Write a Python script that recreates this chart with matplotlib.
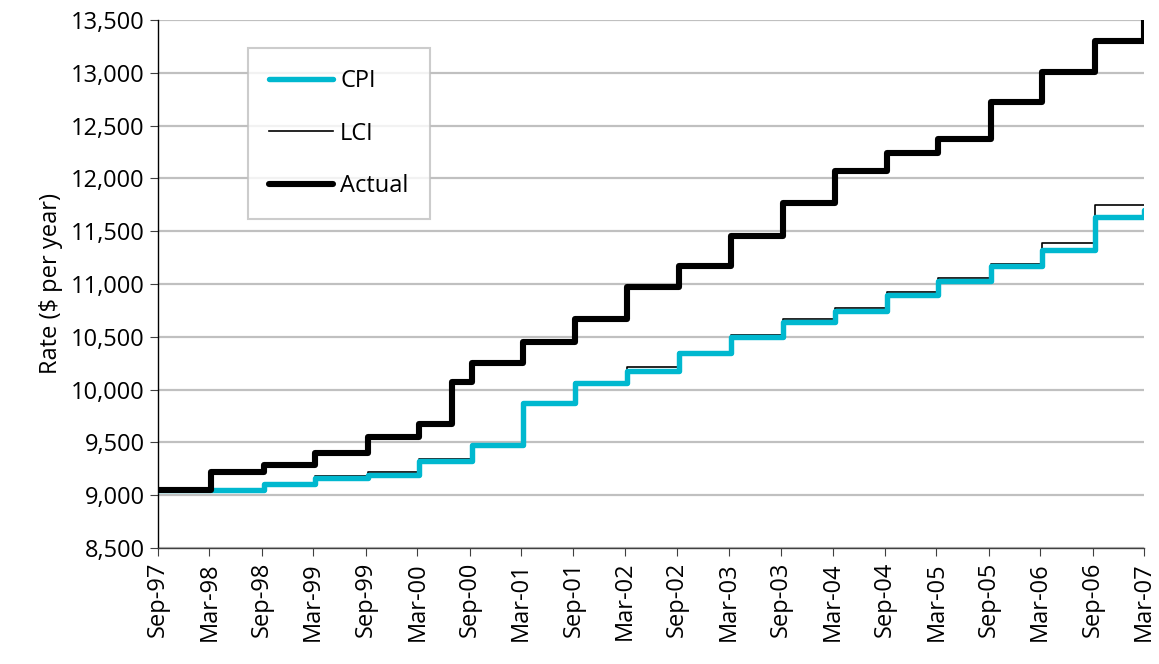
import matplotlib.pyplot as plt
import matplotlib.dates as mdates
import pandas as pd

# step dates (rate changes) and rates in $ per year
dates = ["1997-09-01", "1998-03-08", "1998-09-08", "1999-03-08", "1999-09-08",
         "2000-03-08", "2000-09-08", "2001-03-08", "2001-09-08", "2002-03-08",
         "2002-09-08", "2003-03-08", "2003-09-08", "2004-03-08", "2004-09-08",
         "2005-03-08", "2005-09-08", "2006-03-08", "2006-09-08", "2007-03-01"]

cpi = [9050, 9050, 9110, 9165, 9195, 9325, 9475, 9875, 10060, 10180,
       10345, 10495, 10640, 10745, 10895, 11030, 11170, 11325, 11635, 11700]

lci = [9050, 9050, 9110, 9185, 9215, 9340, 9470, 9860, 10075, 10210,
       10355, 10515, 10665, 10775, 10925, 11055, 11185, 11385, 11750, 11750]

# actual rate has one extra change in mid 2000
actual_dates = ["1997-09-01", "1998-03-08", "1998-09-08", "1999-03-08", "1999-09-08",
                "2000-03-08", "2000-07-01", "2000-09-08", "2001-03-08", "2001-09-08",
                "2002-03-08", "2002-09-08", "2003-03-08", "2003-09-08", "2004-03-08",
                "2004-09-08", "2005-03-08", "2005-09-08", "2006-03-08", "2006-09-08",
                "2007-03-01"]
actual = [9050, 9220, 9285, 9395, 9550, 9675, 10075, 10255, 10450, 10665,
          10975, 11170, 11450, 11765, 12070, 12240, 12370, 12720, 13005, 13300, 13560]

x = pd.to_datetime(dates)
xa = pd.to_datetime(actual_dates)

plt.rcParams['font.family'] = ['Open Sans', 'DejaVu Sans']

fig = plt.figure(figsize=(11.59, 6.64), dpi=100)
ax = fig.add_axes([158 / 1159, 116 / 664, 986 / 1159, 528 / 664])

ax.step(x, lci, where='post', color='black', lw=1.2, label='LCI', zorder=3)
ax.step(x, cpi, where='post', color='#00b8cf', lw=3.9, label='CPI', zorder=4,
        solid_joinstyle='round', solid_capstyle='round')
ax.step(xa, actual, where='post', color='black', lw=4.4, label='Actual', zorder=5,
        solid_joinstyle='round', solid_capstyle='round')

ax.set_xlim(pd.Timestamp("1997-09-01"), pd.Timestamp("2007-03-01"))
ax.set_ylim(8500, 13500)
ax.set_yticks(range(8500, 13501, 500))
ax.yaxis.set_major_formatter(plt.FuncFormatter(lambda v, p: f"{int(v):,}"))

ax.xaxis.set_major_locator(mdates.MonthLocator(bymonth=(3, 9)))
ax.xaxis.set_major_formatter(mdates.DateFormatter('%b-%y'))
plt.setp(ax.get_xticklabels(), rotation=90)

ax.grid(axis='y', color='#c0c0c0', lw=1.6)
ax.set_axisbelow(True)
for s in ['top', 'right']:
    ax.spines[s].set_visible(False)
ax.spines['left'].set_linewidth(1)
ax.spines['bottom'].set_linewidth(1)
ax.spines['bottom'].set_color('#404040')
ax.tick_params(axis='both', labelsize=17, length=6, direction='out', color='#404040')
ax.tick_params(axis='x', pad=4)

ax.set_ylabel('Rate ($ per year)', fontsize=17, labelpad=6)

h, l = ax.get_legend_handles_labels()
order = [1, 0, 2]
leg = ax.legend([h[i] for i in order], [l[i] for i in order],
                loc='upper left', bbox_to_anchor=(0.0913, 0.947), borderaxespad=0,
                fontsize=17, frameon=True, fancybox=False, edgecolor='#c0c0c0',
                labelspacing=1.2, handlelength=2.7, handletextpad=0.3, borderpad=0.9)
leg.get_frame().set_linewidth(1.5)
leg.set_zorder(10)

fig.savefig('out.png', dpi=100)
